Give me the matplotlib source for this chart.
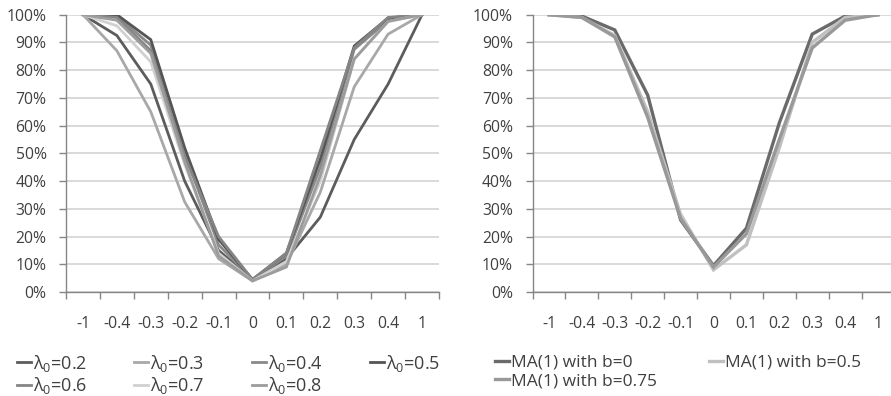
import matplotlib
matplotlib.use("Agg")
import matplotlib.pyplot as plt
from matplotlib.ticker import FixedLocator, FuncFormatter, NullFormatter
import numpy as np

categories = ["-1", "-0.4", "-0.3", "-0.2", "-0.1", "0", "0.1", "0.2", "0.3", "0.4", "1"]

# Left panel: power curves for different lambda_0 (percent)
lam_labels = ["λ$_{0}$=0.2", "λ$_{0}$=0.3", "λ$_{0}$=0.4", "λ$_{0}$=0.5",
              "λ$_{0}$=0.6", "λ$_{0}$=0.7", "λ$_{0}$=0.8"]
lam_02 = [100, 92.5, 75, 40, 15, 4.5, 12, 27, 55, 75, 100]
lam_03 = [100, 87, 65, 32.5, 12, 4, 10, 36, 74, 93, 100]
lam_04 = [100, 99.5, 89, 50, 17, 4.5, 13, 45, 87.5, 98, 100]
lam_05 = [100, 100, 91, 52, 19, 4.5, 14, 48, 88.7, 98.8, 100]
lam_06 = [100, 99, 87, 49, 20, 4.5, 14, 51, 88, 99, 100]
lam_07 = [100, 96, 83, 46, 14, 4, 11, 40, 84, 97.5, 100]
lam_08 = [100, 98, 86, 47, 13, 4, 9, 42, 84, 97.6, 100]
lam_series = [lam_02, lam_03, lam_04, lam_05, lam_06, lam_07, lam_08]
lam_colors = ["#5c5c5c", "#a8a8a8", "#8a8a8a", "#555555", "#858585", "#d0d0d0", "#9c9c9c"]

# Right panel: MA(1) alternatives (percent)
ma_labels = ["MA(1) with b=0", "MA(1) with b=0.5", "MA(1) with b=0.75"]
ma_b0 = [100, 99.5, 94.5, 71, 26, 9.5, 23, 61, 93, 99.5, 100]
ma_b05 = [100, 99, 92.5, 65, 28, 8, 17, 52, 90, 99, 100]
ma_b075 = [100, 99, 92, 63, 26.5, 9, 21, 55, 88, 98, 100]
ma_series = [ma_b0, ma_b05, ma_b075]
ma_colors = ["#6a6a6a", "#c0c0c0", "#999999"]

FONT = ["Open Sans", "DejaVu Sans"]
plt.rcParams["font.family"] = FONT
plt.rcParams["mathtext.fontset"] = "custom"
plt.rcParams["mathtext.rm"] = "Open Sans"
plt.rcParams["mathtext.it"] = "Open Sans"
plt.rcParams["mathtext.default"] = "regular"
TXT = "#404040"

W, H = 891, 396
fig = plt.figure(figsize=(W / 100, H / 100), dpi=100)


def style_axes(ax):
    n = len(categories)
    x = np.arange(n)
    ax.set_xlim(-0.5, n - 0.5)
    ax.set_ylim(0, 100)
    ax.set_yticks(np.arange(0, 101, 10))
    ax.yaxis.set_major_formatter(FuncFormatter(lambda v, p: f"{int(v)}%"))
    ax.grid(axis="y", color="#d9d9d9", linewidth=1.4, zorder=0)
    ax.set_axisbelow(True)
    ax.xaxis.set_major_locator(FixedLocator(np.arange(-0.5, n, 1.0)))
    ax.xaxis.set_major_formatter(NullFormatter())
    ax.xaxis.set_minor_locator(FixedLocator(x))
    ax.set_xticklabels(categories, minor=True)
    ax.tick_params(axis="x", which="major", length=5, width=1, color="#868686", direction="out")
    ax.tick_params(axis="x", which="minor", length=0, pad=17, labelsize=11.3, labelcolor=TXT)
    ax.tick_params(axis="y", which="major", length=5, width=1, color="#868686", pad=9,
                   labelsize=11.3, labelcolor=TXT)
    for s in ["top", "right"]:
        ax.spines[s].set_visible(False)
    for s in ["left", "bottom"]:
        ax.spines[s].set_color("#868686")
        ax.spines[s].set_linewidth(1)
    return x


# Left axes
axL = fig.add_axes([66 / W, 1 - 292 / H, (439 - 66) / W, (292 - 14.7) / H])
x = style_axes(axL)
lam_handles = []
for vals, col, lab in zip(lam_series, lam_colors, lam_labels):
    h, = axL.plot(x, vals, color=col, lw=2.0, label=lab, solid_joinstyle="miter")
    lam_handles.append(h)

# Right axes
axR = fig.add_axes([532.5 / W, 1 - 292 / H, (894.5 - 532.5) / W, (292 - 14.7) / H])
x = style_axes(axR)
ma_handles = []
for vals, col, lab in zip(ma_series, ma_colors, ma_labels):
    h, = axR.plot(x, vals, color=col, lw=2.4, label=lab, solid_joinstyle="miter")
    ma_handles.append(h)

# Legends (row-major order emulation)
order = [0, 4, 1, 5, 2, 6, 3]
legL = fig.legend([lam_handles[i] for i in order], [lam_labels[i] for i in order],
                  ncol=4, loc="upper left", bbox_to_anchor=(13 / W, 1 - 349 / H),
                  frameon=False, fontsize=13, handlelength=0.8, handletextpad=0.1,
                  columnspacing=2.6, labelspacing=0.1, borderaxespad=0, borderpad=0.2)
for t in legL.get_texts():
    t.set_color(TXT)

ordR = [0, 2, 1]
legR = fig.legend([ma_handles[i] for i in ordR], [ma_labels[i] for i in ordR],
                  ncol=2, loc="upper left", bbox_to_anchor=(492 / W, 1 - 351 / H),
                  frameon=False, fontsize=12.5, handlelength=0.8, handletextpad=0.1,
                  columnspacing=3.0, labelspacing=0.15, borderaxespad=0, borderpad=0.2)
for t in legR.get_texts():
    t.set_color(TXT)

fig.savefig("out.png", dpi=100)
